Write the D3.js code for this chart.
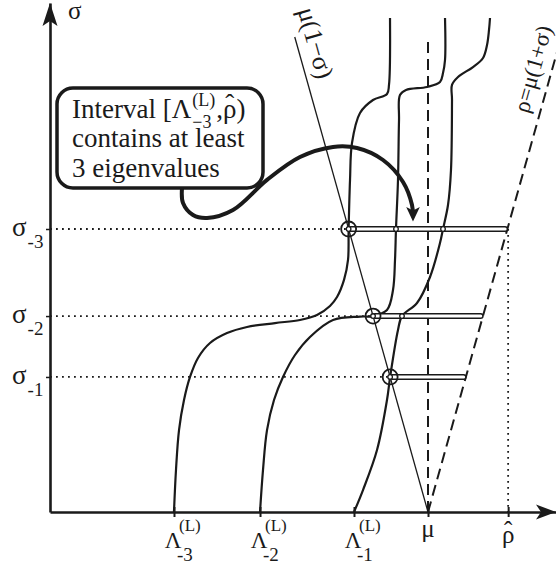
<!DOCTYPE html>
<html><head><meta charset="utf-8">
<script src="https://cdn.jsdelivr.net/npm/d3@7"></script>
<style>html,body{margin:0;padding:0;background:#fff;} svg{display:block;} text{font-family:"Liberation Serif","DejaVu Serif",serif;fill:#1a1a1a;}</style>
</head><body><svg id="c" width="556" height="567"></svg>
<script>
// ---------- data ----------
const mu = 1;
const sigmaLevels = [0.1002, 0.1454, 0.2100];      // σ_-1, σ_-2, σ_-3
const sigmaLabels = ["-1", "-2", "-3"];
const lambdaL = [0.3280, 0.5556, 0.8042];          // Λ_-3, Λ_-2, Λ_-1
const lambdaLabels = ["-3", "-2", "-1"];
const rhoHat = 1.212;
const sigmaMax = 0.3777;
const sigmaLineTop = 0.3525;

const curveA = [[0.3280,0.0000],[0.3333,0.0312],[0.3413,0.0608],[0.3545,0.0831],[0.3704,0.1002],[0.3915,0.1143],[0.4233,0.1254],[0.4683,0.1328],[0.5212,0.1373],[0.5952,0.1402],[0.6614,0.1425],[0.7063,0.1462],[0.7407,0.1529],[0.7593,0.1595],[0.7778,0.1722],[0.7884,0.1870],[0.7900,0.2100],[0.7937,0.2464],[0.7989,0.2738],[0.8201,0.2961],[0.8545,0.3057],[0.8915,0.3102],[0.8968,0.3169],[0.8995,0.3666]];
const curveB = [[0.5556,0.0000],[0.5635,0.0312],[0.5741,0.0608],[0.5926,0.0831],[0.6164,0.1002],[0.6481,0.1165],[0.6878,0.1299],[0.7487,0.1425],[0.8201,0.1450],[0.8546,0.1454],[0.8915,0.1499],[0.9074,0.1647],[0.9127,0.1870],[0.9153,0.2100],[0.9206,0.2464],[0.9233,0.2909],[0.9259,0.3094],[0.9418,0.3131],[0.9974,0.3154],[1.0317,0.3191],[1.0397,0.3258],[1.0450,0.3354],[1.0450,0.3666]];
const curveC = [[0.8042,0.0000],[0.8280,0.0163],[0.8651,0.0460],[0.8915,0.0831],[0.8998,0.1002],[0.9206,0.1351],[0.9312,0.1454],[0.9709,0.1551],[1.0053,0.1744],[1.0317,0.1996],[1.0397,0.2100],[1.0529,0.2278],[1.0608,0.2538],[1.0635,0.3057],[1.0635,0.3169],[1.0794,0.3228],[1.1190,0.3302],[1.1455,0.3369],[1.1561,0.3465],[1.1614,0.3577],[1.1640,0.3666]];
const barDots = [[0.9153,0.2100],[1.0397,0.2100],[0.9312,0.1454]];
const calloutPath = [[0.3492,0.2404],[0.3519,0.2293],[0.3783,0.2204],[0.4153,0.2182],[0.4841,0.2241],[0.5741,0.2464],[0.6614,0.2634],[0.7487,0.2709],[0.8122,0.2701],[0.8810,0.2612],[0.9339,0.2449],[0.9577,0.2278],[0.9603,0.2196]];
const calloutLines = ["Interval [Λ", "contains at least", "3 eigenvalues"];

// ---------- scales ----------
const x = d3.scaleLinear().domain([0, 1.3386]).range([50, 556]);
const y = d3.scaleLinear().domain([0, sigmaMax]).range([512, 3]);
const svg = d3.select("#c");
const INK = "#1a1a1a";
const lineGen = d3.line().x(d => x(d[0])).y(d => y(d[1])).curve(d3.curveCatmullRom.alpha(0.5));

// dotted guides
svg.selectAll(".hd").data(sigmaLevels).join("line")
  .attr("x1", x(0)).attr("x2", d => x(mu * (1 - d)))
  .attr("y1", d => y(d)).attr("y2", d => y(d))
  .attr("stroke", INK).attr("stroke-width", 1.8).attr("stroke-dasharray", "1.8,4.2");
svg.append("line").attr("x1", x(rhoHat)).attr("x2", x(rhoHat))
  .attr("y1", y(d3.max(sigmaLevels))).attr("y2", y(0))
  .attr("stroke", INK).attr("stroke-width", 1.8).attr("stroke-dasharray", "1.8,4.2");

// μ dashed vertical
svg.append("line").attr("x1", x(mu)).attr("x2", x(mu)).attr("y1", y(0)).attr("y2", y(sigmaLineTop))
  .attr("stroke", INK).attr("stroke-width", 2).attr("stroke-dasharray", "11,6");
// ρ = μ(1+σ)
svg.append("path").attr("d", d3.line().x(d => x(d[0])).y(d => y(d[1]))([[mu, 0], [mu * (1 + sigmaMax), sigmaMax]]))
  .attr("fill", "none").attr("stroke", INK).attr("stroke-width", 2).attr("stroke-dasharray", "11,6");
// μ(1−σ)
svg.append("path").attr("d", d3.line().x(d => x(d[0])).y(d => y(d[1]))([[mu, 0], [mu * (1 - sigmaLineTop), sigmaLineTop]]))
  .attr("fill", "none").attr("stroke", INK).attr("stroke-width", 1.3);

// curves
svg.selectAll(".cv").data([curveA, curveB, curveC]).join("path")
  .attr("d", lineGen).attr("fill", "none").attr("stroke", INK).attr("stroke-width", 2.2);

// bars
svg.selectAll(".bar").data(sigmaLevels).join("rect")
  .attr("x", d => x(mu * (1 - d))).attr("width", d => x(mu * (1 + d)) - x(mu * (1 - d)))
  .attr("y", d => y(d) - 2.3).attr("height", 4.6).attr("rx", 2.3)
  .attr("fill", "#fff").attr("stroke", INK).attr("stroke-width", 1.5);

// circles
svg.selectAll(".bc").data(sigmaLevels).join("circle")
  .attr("cx", d => x(mu * (1 - d))).attr("cy", d => y(d)).attr("r", 7.5)
  .attr("fill", "none").attr("stroke", INK).attr("stroke-width", 1.8);
svg.selectAll(".sc").data(sigmaLevels.map(s => [mu * (1 - s), s]).concat(barDots)).join("circle")
  .attr("cx", d => x(d[0])).attr("cy", d => y(d[1])).attr("r", 2.3)
  .attr("fill", "#fff").attr("stroke", INK).attr("stroke-width", 1.3);

// axes
const xAxis = d3.axisBottom(x).tickValues(lambdaL.concat([mu, rhoHat])).tickFormat("").tickSizeOuter(0).tickSizeInner(5);
const gx = svg.append("g").attr("transform", `translate(0,${y(0)})`).call(xAxis);
gx.selectAll(".tick line").attr("y1", -5).attr("y2", 5).attr("stroke", INK).attr("stroke-width", 2);
gx.select(".domain").attr("stroke", INK).attr("stroke-width", 2.6);
const yAxis = d3.axisLeft(y).tickValues(sigmaLevels).tickFormat("").tickSizeOuter(0).tickSizeInner(4);
const gy = svg.append("g").attr("transform", `translate(${x(0)},0)`).call(yAxis);
gy.selectAll(".tick line").attr("stroke", INK).attr("stroke-width", 1.5);
gy.select(".domain").attr("stroke", INK).attr("stroke-width", 2.6);
// arrowheads
{
  const tx = x(0), ty = y(sigmaMax);
  svg.append("path").attr("d", `M${tx},${ty}L${tx - 7.5},${ty + 23}L${tx},${ty + 18}L${tx + 7.5},${ty + 23}Z`).attr("fill", INK);
  const ex = x(x.domain()[1]), ey = y(0);
  svg.append("path").attr("d", `M${ex},${ey}L${ex - 20},${ey - 7.5}L${ex - 15},${ey}L${ex - 20},${ey + 7.5}Z`).attr("fill", INK);
}

// axis labels
svg.append("text").attr("x", 68).attr("y", 19).attr("font-size", 25).text("σ");
sigmaLevels.forEach((s, i) => {
  const t = svg.append("text").attr("x", 12).attr("y", y(s) + 7).attr("font-size", 27).text("σ");
  const w = t.node().getComputedTextLength();
  svg.append("text").attr("x", 12 + w + 1).attr("y", y(s) + 19).attr("font-size", 19).text(sigmaLabels[i]);
});
lambdaL.forEach((l, i) => {
  const cx = x(l) - 1;
  svg.append("text").attr("x", cx).attr("y", 548).attr("text-anchor", "middle").attr("font-size", 23).text("Λ");
  svg.append("text").attr("x", cx + 6).attr("y", 531).attr("font-size", 17).text("(L)");
  svg.append("text").attr("x", cx + 4).attr("y", 561).attr("font-size", 19).text(lambdaLabels[i]);
});
svg.append("text").attr("x", x(mu)).attr("y", 537).attr("text-anchor", "middle").attr("font-size", 25).text("μ");
svg.append("text").attr("x", x(rhoHat)).attr("y", 543).attr("text-anchor", "middle").attr("font-size", 25).text("ρ");
svg.append("text").attr("x", x(rhoHat)).attr("y", 539).attr("text-anchor", "middle").attr("font-size", 25).text("ˆ");

// rotated line labels
{
  const s0 = 0.3443;
  const p0 = [x(mu * (1 - s0)), y(s0)];
  const dx = x(mu) - x(mu * (1 - sigmaLineTop)), dy = y(0) - y(sigmaLineTop);
  const ang = Math.atan2(dy, dx) * 180 / Math.PI;
  const up = [Math.sin(ang * Math.PI / 180), -Math.cos(ang * Math.PI / 180)];
  const off = 10;
  svg.append("text").attr("transform", `translate(${p0[0] + up[0] * off},${p0[1] + up[1] * off}) rotate(${ang})`)
    .attr("text-anchor", "middle").attr("font-size", 26).text("μ(1−σ)");
  const s1 = 0.325;
  const p1 = [x(mu * (1 + s1)), y(s1)];
  const dx2 = x(mu * (1 + sigmaMax)) - x(mu), dy2 = y(sigmaMax) - y(0);
  const ang2 = Math.atan2(dy2, dx2) * 180 / Math.PI;
  const up2 = [Math.sin(ang2 * Math.PI / 180), -Math.cos(ang2 * Math.PI / 180)];
  const off2 = 11;
  svg.append("text").attr("transform", `translate(${p1[0] + up2[0] * off2},${p1[1] + up2[1] * off2}) rotate(${ang2})`)
    .attr("text-anchor", "middle").attr("font-size", 23).text("ρ=μ(1+σ)");
}

// callout
svg.append("defs").append("marker").attr("id", "ah").attr("markerUnits", "userSpaceOnUse")
  .attr("markerWidth", 20).attr("markerHeight", 20).attr("viewBox", "-2 -10 22 20")
  .attr("refX", 10).attr("refY", 0).attr("orient", "auto")
  .append("path").attr("d", "M0,-7.5L16,0L0,7.5L4,0Z").attr("fill", INK);
const box = { x: 57, y: 88, w: 206, h: 100, r: 16 };
svg.append("rect").attr("x", box.x).attr("y", box.y).attr("width", box.w).attr("height", box.h).attr("rx", box.r)
  .attr("fill", "#fff").attr("stroke", INK).attr("stroke-width", 3.5);
svg.append("path").attr("d", lineGen(calloutPath)).attr("fill", "none").attr("stroke", INK)
  .attr("stroke-width", 4).attr("marker-end", "url(#ah)");
const fs = 27, tx0 = 72, base = [118, 147, 177];
calloutLines.forEach((t, i) => {
  svg.append("text").attr("x", tx0).attr("y", base[i]).attr("font-size", fs).text(t);
});
{
  const probe = svg.append("text").attr("font-size", fs).attr("visibility", "hidden").text(calloutLines[0]);
  const w = probe.node().getComputedTextLength(); probe.remove();
  const sx = tx0 + w + 1;
  const sup = svg.append("text").attr("x", sx).attr("y", 106).attr("font-size", 18).text("(L)");
  svg.append("text").attr("x", sx).attr("y", 128).attr("font-size", 18).text("−3");
  const sw = sup.node().getComputedTextLength();
  const rx = sx + sw + 1;
  const tail = svg.append("text").attr("x", rx).attr("y", base[0]).attr("font-size", fs);
  tail.append("tspan").text(",");
  tail.append("tspan").text("ρ");
  tail.append("tspan").text(")");
  const probe2 = svg.append("text").attr("font-size", fs).attr("visibility", "hidden").text(",");
  const cw = probe2.node().getComputedTextLength(); probe2.remove();
  const probe3 = svg.append("text").attr("font-size", fs).attr("visibility", "hidden").text("ρ");
  const rw = probe3.node().getComputedTextLength(); probe3.remove();
  svg.append("text").attr("x", rx + cw + rw / 2).attr("y", base[0] - 5).attr("text-anchor", "middle").attr("font-size", fs).text("ˆ");
}
</script></body></html>
